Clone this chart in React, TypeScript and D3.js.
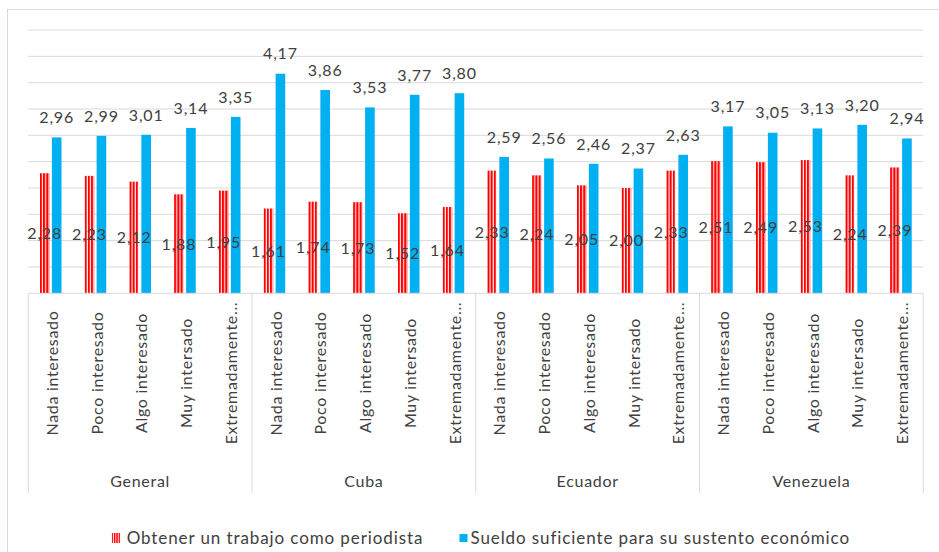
import React from 'react';
import * as d3 from 'd3';

const groups = ['General', 'Cuba', 'Ecuador', 'Venezuela'];
const categories = ['Nada interesado', 'Poco interesado', 'Algo interesado', 'Muy intersado', 'Extremadamente...'];
const seriesNames = ['Obtener un trabajo como periodista', 'Sueldo suficiente para su sustento económico'];
const trabajoGeneral = [2.28, 2.23, 2.12, 1.88, 1.95];
const trabajoCuba = [1.61, 1.74, 1.73, 1.52, 1.64];
const trabajoEcuador = [2.33, 2.24, 2.05, 2.0, 2.33];
const trabajoVenezuela = [2.51, 2.49, 2.53, 2.24, 2.39];
const sueldoGeneral = [2.96, 2.99, 3.01, 3.14, 3.35];
const sueldoCuba = [4.17, 3.86, 3.53, 3.77, 3.8];
const sueldoEcuador = [2.59, 2.56, 2.46, 2.37, 2.63];
const sueldoVenezuela = [3.17, 3.05, 3.13, 3.2, 2.94];
const yGridTicks = [0.5, 1, 1.5, 2, 2.5, 3, 3.5, 4, 4.5, 5];

const trabajo = [trabajoGeneral, trabajoCuba, trabajoEcuador, trabajoVenezuela];
const sueldo = [sueldoGeneral, sueldoCuba, sueldoEcuador, sueldoVenezuela];

const W = 939;
const H = 552;
const left = 28.3;
const right = 923.3;
const top = 30;
const bottom = 293.3;
const FONT = 'Lato, "Open Sans", sans-serif';
const TXT = '#404040';
const GRID = '#d9d9d9';
const RED = '#ff0000';
const BLUE = '#00b0f0';

const fmt = (v: number) => v.toFixed(2).replace('.', ',');

export default function App() {
  const rows = groups.flatMap((g, gi) =>
    categories.map((c, ci) => ({ key: `${g}|${c}`, g, c, gi, ci, t: trabajo[gi][ci], s: sueldo[gi][ci] }))
  );
  const x = d3.scaleBand<string>().domain(rows.map((r) => r.key)).range([left, right]).padding(0);
  const xg = d3.scaleBand<string>().domain(groups).range([left, right]).padding(0);
  const y = d3.scaleLinear().domain([0, 5]).range([bottom, top]);
  const bw = 9.6;
  const gap = 2.4;

  return (
    <svg width={W} height={H} style={{ position: 'absolute', left: 0, top: 0, background: '#fff' }} fontFamily={FONT}>
      <defs>
        <pattern id="vstripe" patternUnits="objectBoundingBox" width={1 / 3} height={1} patternContentUnits="objectBoundingBox">
          <rect x={0} y={0} width={1} height={1} fill="#fff" />
          <rect x={0} y={0} width={0.22} height={1} fill={RED} />
        </pattern>
        <pattern id="vstripeL" patternUnits="userSpaceOnUse" x={111.7} width={2.3} height={10}>
          <rect x={0} y={0} width={2.3} height={10} fill="#fff" />
          <rect x={0} y={0} width={1.4} height={10} fill={RED} />
        </pattern>
      </defs>
      <rect x={0} y={0} width={W} height={H} fill="#fff" />
      <rect x={7.5} y={9.5} width={W + 10} height={H + 10} fill="none" stroke={GRID} strokeWidth={1} />
      {yGridTicks.map((t) => (
        <line key={t} x1={left} x2={right} y1={y(t)} y2={y(t)} stroke={GRID} strokeWidth={1} />
      ))}
      {/* bars */}
      {rows.map((r) => {
        const cx = (x(r.key) as number) + x.bandwidth() / 2;
        return (
          <g key={r.key}>
            <rect x={cx - gap / 2 - bw} y={y(r.t)} width={bw} height={bottom - y(r.t)} fill="url(#vstripe)" />
            <rect x={cx + gap / 2} y={y(r.s)} width={bw} height={bottom - y(r.s)} fill={BLUE} />
          </g>
        );
      })}
      {/* axis */}
      <line x1={left} x2={right} y1={bottom} y2={bottom} stroke={GRID} strokeWidth={1} />
      {[...groups.map((g) => xg(g) as number), right].map((gx, i) => (
        <line key={i} x1={gx} x2={gx} y1={bottom} y2={493} stroke={GRID} strokeWidth={1} />
      ))}
      {/* data labels */}
      {rows.map((r) => {
        const cx = (x(r.key) as number) + x.bandwidth() / 2;
        const rc = cx - gap / 2 - bw / 2;
        const bc = cx + gap / 2 + bw / 2;
        return (
          <g key={r.key + 'l'} fontSize={16} fill={TXT} letterSpacing={0.8} textAnchor="middle">
            <text x={rc} y={(y(r.t) + bottom) / 2} dy="0.36em">{fmt(r.t)}</text>
            <text x={bc} y={y(r.s) - 20} dy="0.36em">{fmt(r.s)}</text>
          </g>
        );
      })}
      {/* category labels */}
      {rows.map((r) => {
        const cx = (x(r.key) as number) + x.bandwidth() / 2;
        return (
          <text
            key={r.key + 'c'}
            transform={`translate(${cx},373) rotate(-90)`}
            textAnchor="middle"
            dy="0.45em"
            fontSize={16}
            letterSpacing={0.7}
            fill={TXT}
          >
            {r.c}
          </text>
        );
      })}
      {groups.map((g) => (
        <text
          key={g}
          x={(xg(g) as number) + xg.bandwidth() / 2}
          y={487}
          textAnchor="middle"
          fontSize={16}
          letterSpacing={0.7}
          fill={TXT}
        >
          {g}
        </text>
      ))}
      {/* legend */}
      <g fontSize={17} letterSpacing={0.9} fill={TXT}>
        <rect x={111.7} y={533} width={9} height={10} fill="url(#vstripeL)" />
        <text x={126.7} y={544}>{seriesNames[0]}</text>
        <rect x={459.5} y={534} width={8} height={8} fill={BLUE} />
        <text x={470.5} y={544}>{seriesNames[1]}</text>
      </g>
    </svg>
  );
}
